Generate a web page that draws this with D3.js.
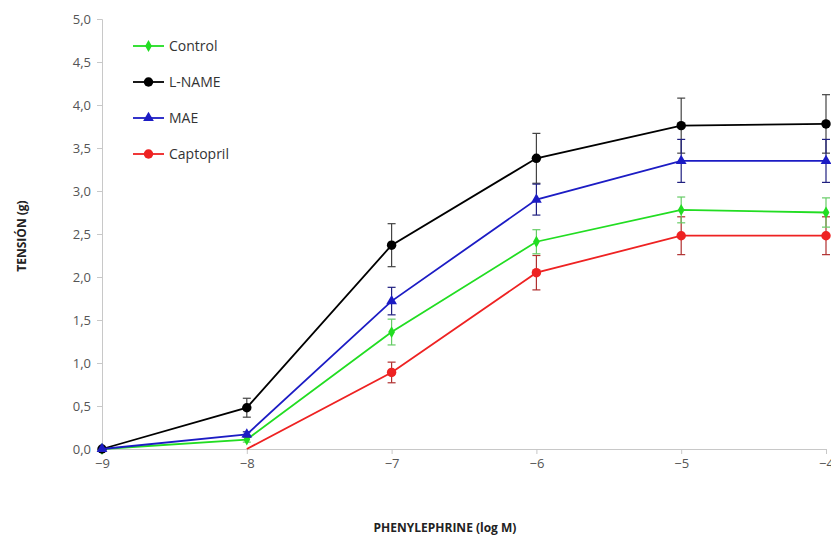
<!DOCTYPE html>
<html>
<head>
<meta charset="utf-8">
<script src="https://cdn.jsdelivr.net/npm/d3@7"></script>
<style>
  body { margin:0; background:#fff; }
  svg text { font-family: "Open Sans", "DejaVu Sans", sans-serif; }
</style>
</head>
<body>
<div id="chart"></div>
<script>
// concentrations (log M)
var doses      = [-9, -8, -7, -6, -5, -4]

var controlY   = [0, 0.11, 1.36, 2.41, 2.78, 2.75]
var controlE   = [0, 0.03, 0.15, 0.14, 0.15, 0.17]
var lnameY     = [0, 0.48, 2.37, 3.38, 3.76, 3.78]
var lnameE     = [0, 0.11, 0.25, 0.29, 0.32, 0.34]
var maeY       = [0, 0.17, 1.72, 2.90, 3.35, 3.35]
var maeE       = [0, 0.03, 0.16, 0.18, 0.25, 0.25]
var captoDoses = [-8, -7, -6, -5, -4]
var captoY     = [0, 0.89, 2.05, 2.48, 2.48]
var captoE     = [0, 0.12, 0.20, 0.22, 0.22]

var xTicks = [-9, -8, -7, -6, -5, -4]
var yTicks = [0, 0.5, 1, 1.5, 2, 2.5, 3, 3.5, 4, 4.5, 5]

var zip = (xs, ys, es)=> xs.map((x, i)=> ({ x:x, y:ys[i], e:es[i] }))

var series = [
    { name:'Captopril', color:'#ee2222', err:'#b03030', shape:d3.symbolCircle,   size:70, pts:zip(captoDoses, captoY, captoE) },
    { name:'Control',   color:'#22dd22', err:'#66cc66', shape:d3.symbolDiamond,  size:40, pts:zip(doses, controlY, controlE) },
    { name:'L-NAME',    color:'#000000', err:'#444444', shape:d3.symbolCircle,   size:70, pts:zip(doses, lnameY, lnameE) },
    { name:'MAE',       color:'#1c1cc4', err:'#202080', shape:d3.symbolTriangle, size:50, pts:zip(doses, maeY, maeE) }
]
var legendOrder = ['Control', 'L-NAME', 'MAE', 'Captopril']

var W = 831, H = 538
var m = { top:19, right:5, bottom:89, left:102 }

var svg = d3.select('#chart').append('svg')
    .attr('width', W)
    .attr('height', H)

var x = d3.scaleLinear().domain([-9, -4]).range([m.left, W-m.right])
var y = d3.scaleLinear().domain([0, 5]).range([H-m.bottom, m.top])

// axes
var xAxis = svg.append('g')
    .attr('transform', 'translate(0,' + (H-m.bottom) + ')')
    .call(d3.axisBottom(x).tickValues(xTicks).tickSize(5).tickPadding(5).tickFormat(d3.format('d')))
var yAxis = svg.append('g')
    .attr('transform', 'translate(' + m.left + ',0)')
    .call(d3.axisLeft(y).tickValues(yTicks).tickSize(5).tickPadding(6)
        .tickFormat(d=> d3.format('.1f')(d).replace('.', ',')))

;[xAxis, yAxis].forEach(a=> {
    a.select('.domain').attr('stroke', '#c8c8c8')
    a.selectAll('.tick line').attr('stroke', '#c8c8c8')
    a.selectAll('.tick text').attr('fill', '#555').style('font-size', '13px')
})

svg.append('text')
    .attr('transform', 'translate(26,' + ((m.top + H-m.bottom)/2 + 2) + ') rotate(-90)')
    .attr('text-anchor', 'middle')
    .style('font-size', '12px')
    .style('font-weight', 'bold')
    .attr('fill', '#222')
    .text('TENSIÓN (g)')

svg.append('text')
    .attr('x', 445)
    .attr('y', 532)
    .attr('text-anchor', 'middle')
    .style('font-size', '12px')
    .style('font-weight', 'bold')
    .attr('fill', '#222')
    .text('PHENYLEPHRINE (log M)')

var line = d3.line().x(d=> x(d.x)).y(d=> y(d.y))
var capW = 4

series.forEach(s=> {
    var g = svg.append('g').attr('class', 'series')

    var eb = g.selectAll('.err').data(s.pts.filter(d=> d.e > 0)).enter().append('g')
        .attr('stroke', s.err)
        .attr('stroke-width', 1.2)
    eb.append('line')
        .attr('x1', d=> x(d.x)).attr('x2', d=> x(d.x))
        .attr('y1', d=> y(d.y - d.e)).attr('y2', d=> y(d.y + d.e))
    eb.append('line')
        .attr('x1', d=> x(d.x) - capW).attr('x2', d=> x(d.x) + capW)
        .attr('y1', d=> y(d.y + d.e)).attr('y2', d=> y(d.y + d.e))
    eb.append('line')
        .attr('x1', d=> x(d.x) - capW).attr('x2', d=> x(d.x) + capW)
        .attr('y1', d=> y(d.y - d.e)).attr('y2', d=> y(d.y - d.e))

    g.append('path')
        .datum(s.pts)
        .attr('fill', 'none')
        .attr('stroke', s.color)
        .attr('stroke-width', 1.8)
        .attr('d', line)

    g.selectAll('.pt').data(s.name == 'Captopril' ? s.pts.slice(1) : s.pts).enter().append('path')
        .attr('transform', d=> 'translate(' + x(d.x) + ',' + y(d.y) + ')')
        .attr('d', d3.symbol().type(s.shape).size(s.size))
        .attr('fill', s.color)
})

// legend
var lg = svg.append('g').attr('transform', 'translate(133,46)')
legendOrder.forEach((name, i)=> {
    var s = series.find(d=> d.name == name)
    var row = lg.append('g').attr('transform', 'translate(0,' + (i*36) + ')')
    row.append('line')
        .attr('x1', 0).attr('x2', 31)
        .attr('stroke', s.color)
        .attr('stroke-width', 1.8)
    row.append('path')
        .attr('transform', 'translate(15.5,0)')
        .attr('d', d3.symbol().type(s.shape).size(s.size))
        .attr('fill', s.color)
    row.append('text')
        .attr('x', 36)
        .attr('y', 5)
        .style('font-size', '14px')
        .attr('fill', '#333')
        .text(name)
})
</script>
</body>
</html>
